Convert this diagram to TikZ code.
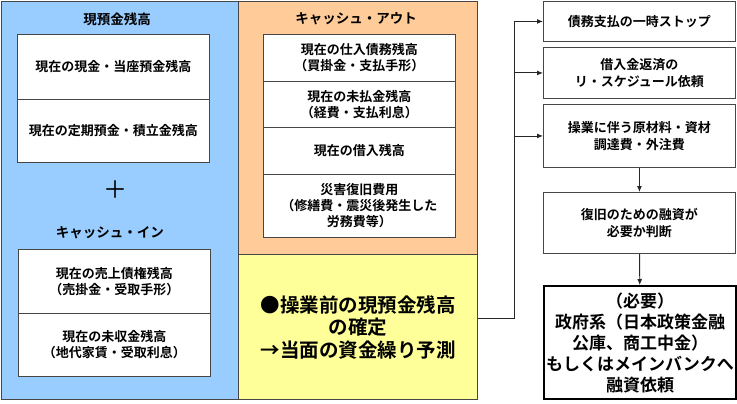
\documentclass[tikz,border=0pt]{standalone}
\usepackage{fontspec}
\setmainfont{Noto Sans CJK JP}[BoldFont={Noto Sans CJK JP Bold}]
\usetikzlibrary{arrows.meta}
\definecolor{cashblue}{RGB}{153,204,255}
\definecolor{cashorange}{RGB}{255,204,153}
\definecolor{cashyellow}{RGB}{255,255,153}
\definecolor{edgegrey}{RGB}{70,70,70}

\begin{document}
\begin{tikzpicture}[x=1pt, y=-1pt,
    panel/.style={draw=edgegrey, line width=1.2pt, anchor=north west, inner sep=0pt},
    item/.style={draw=edgegrey, line width=0.9pt, fill=white, anchor=north west,
        minimum width=192pt, align=center, inner sep=0pt,
        font=\bfseries\fontsize{13}{16}\selectfont},
    actbox/.style={item, font=\bfseries\fontsize{13}{17}\selectfont},
    title/.style={font=\bfseries\fontsize{13.5}{16}\selectfont},
    wire/.style={draw=black!85, line width=0.9pt},
    tip/.style={-{Latex[length=6pt,width=5pt]}}]
        \useasboundingbox (0,0) rectangle (737,404);

        % Panels
        \node[panel, fill=cashblue, minimum width=237pt, minimum height=398pt] (cashpanel) at (1,1) {};
        \node[panel, fill=cashorange, minimum width=239pt, minimum height=253pt] (outpanel) at (238,1) {};
        \node[panel, fill=cashyellow, minimum width=239pt, minimum height=145pt, align=center,
            font=\bfseries\fontsize{19.5}{22.5}\selectfont] (plan) at (238,254)
            {●操業前の現預金残高\\の確定\\→当面の資金繰り予測};

        % Cash on hand
        \node[title] (cashtitle) at (117,19) {現預金残高};
        \node[item, minimum height=65pt] (depo) at (17,34) {現在の現金・当座預金残高};
        \node[item, minimum height=63pt] (fixed) at (17,99) {現在の定期預金・積立金残高};
        \node[font=\fontsize{24}{24}\selectfont] (plus) at (115,190) {＋};

        % Cash in
        \node[title] (intitle) at (110,233) {キャッシュ・イン};
        \node[item, minimum height=64pt] (recv) at (18,249) {現在の売上債権残高\\（売掛金・受取手形）};
        \node[item, minimum height=63pt] (accr) at (18,313) {現在の未収金残高\\（地代家賃・受取利息）};

        % Cash out
        \node[title] (outtitle) at (356,19) {キャッシュ・アウト};
        \node[item, minimum height=47pt] (payab) at (263,34) {現在の仕入債務残高\\（買掛金・支払手形）};
        \node[item, minimum height=46pt] (unpaid) at (263,81) {現在の未払金残高\\（経費・支払利息）};
        \node[item, minimum height=47pt] (loans) at (263,127) {現在の借入残高};
        \node[item, minimum height=63pt] (repair) at (263,174) {災害復旧費用\\（修繕費・震災後発生した\\労務費等）};

        % Actions
        \node[actbox, minimum height=40pt] (stop) at (543,1) {債務支払の一時ストップ};
        \node[actbox, minimum height=51pt] (resched) at (543,47) {借入金返済の\\リ・スケジュール依頼};
        \node[actbox, minimum height=63pt] (procure) at (543,104) {操業に伴う原材料・資材\\調達費・外注費};
        \node[actbox, minimum height=61pt] (judge) at (543,192) {復旧のための融資が\\必要か判断};
        \node[actbox, draw=black, line width=2pt, minimum height=113pt,
            font=\bfseries\fontsize{17}{21}\selectfont] (request) at (543,285)
            {（必要）\\政府系（日本政策金融\\公庫、商工中金）\\もしくはメインバンクへ\\融資依頼};

        % Connectors
        \coordinate (junction) at (514,318);
        \draw[wire, tip] (plan.east |- junction) -- (junction) |- (stop.west);
        \draw[wire, tip] (junction |- resched.west) -- (resched.west);
        \draw[wire, tip] (junction |- procure.west) -- (procure.west);
        \draw[wire, tip] (procure) -- (judge);
        \draw[wire, tip] (judge) -- (request);

    \end{tikzpicture}
\end{document}
